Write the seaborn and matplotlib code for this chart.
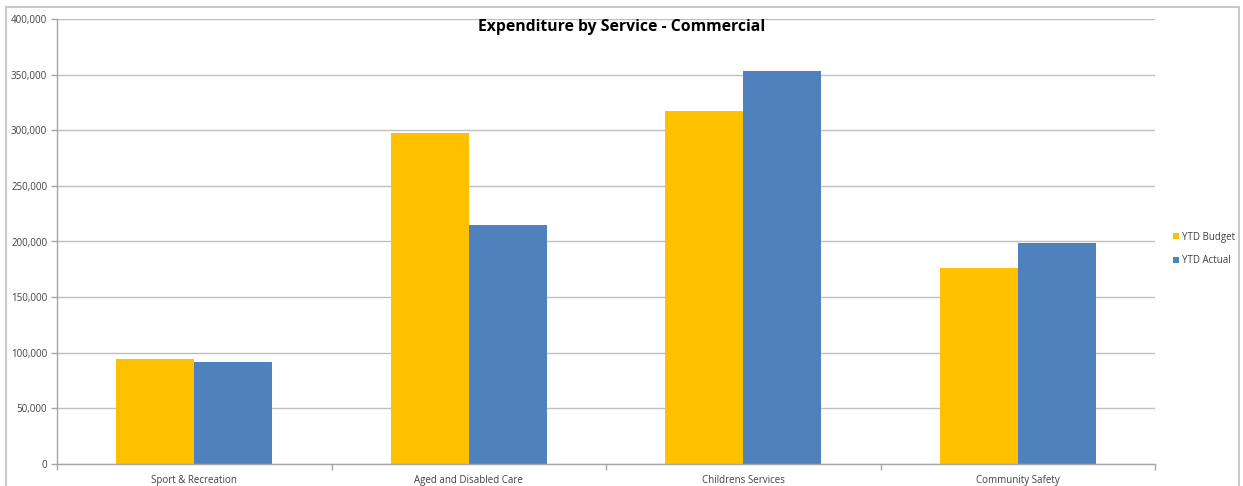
import matplotlib
matplotlib.use("Agg")
import matplotlib.pyplot as plt
import matplotlib.ticker as mticker
from matplotlib.patches import Rectangle
import seaborn as sns
import pandas as pd

categories = ["Sport & Recreation", "Aged and Disabled Care", "Childrens Services", "Community Safety"]
ytd_budget = [94000, 297500, 317000, 176000]
ytd_actual = [92000, 214500, 353500, 199000]
series_names = ["YTD Budget", "YTD Actual"]
title = "Expenditure by Service - Commercial"

df = pd.DataFrame({
    "Service": categories * 2,
    "Series": [series_names[0]] * 4 + [series_names[1]] * 4,
    "Value": ytd_budget + ytd_actual,
})

sns.set_theme(style="white")
plt.rcParams['font.family'] = ['Open Sans', 'DejaVu Sans']

fig = plt.figure(figsize=(12.43, 4.86), dpi=100)
ax = fig.add_axes([57/1243, 22/486, (1155-57)/1243, (464-19)/486])

sns.barplot(data=df, x="Service", y="Value", hue="Series",
            palette=["#FFC000", "#4F81BD"], width=0.57, gap=0,
            saturation=1, ax=ax, legend=True, edgecolor="none")

ax.set_ylim(0, 400000)
ax.set_xlim(-0.5, 3.5)
ax.yaxis.set_major_locator(mticker.MultipleLocator(50000))
ax.yaxis.set_major_formatter(mticker.FuncFormatter(lambda v, p: f"{int(v):,}"))
ax.grid(axis="y", color="#BFBFBF", linewidth=1)
ax.set_axisbelow(True)
ax.set_xlabel("")
ax.set_ylabel("")

for s in ["top", "right"]:
    ax.spines[s].set_visible(False)
for s in ["left", "bottom"]:
    ax.spines[s].set_color("#A6A6A6")
    ax.spines[s].set_linewidth(1)

ax.tick_params(axis="y", labelsize=7, colors="#404040", length=4, width=1,
               left=True, pad=3)
ax.tick_params(axis="y", color="#A6A6A6")
ax.tick_params(axis="x", labelsize=7, colors="#404040", length=0, pad=8)
ax.set_xticks(range(len(categories)))
ax.set_xticklabels(categories)
# category boundary tick marks
ax.set_xticks([-0.5, 0.5, 1.5, 2.5, 3.5], minor=True)
ax.tick_params(axis="x", which="minor", length=4, width=1, color="#A6A6A6", bottom=True)

fig.text(622/1243, 1 - 27/486, title, ha="center", va="center",
         fontsize=11.3, fontweight="bold", color="black")

leg = ax.legend(loc="center left", bbox_to_anchor=(1164/1243, 1 - 249/486),
                bbox_transform=fig.transFigure, frameon=False, fontsize=7,
                handlelength=0.6, handleheight=0.6, handletextpad=0.4,
                labelspacing=1.3)
for t in leg.get_texts():
    t.set_color("#404040")

fig.patches.append(Rectangle((6/1243, -0.02), (1239-6)/1243, 1 - 7/486 + 0.02,
                             transform=fig.transFigure, fill=False,
                             edgecolor="#BFBFBF", linewidth=1.2, zorder=0))

fig.savefig("out.png", dpi=100)
